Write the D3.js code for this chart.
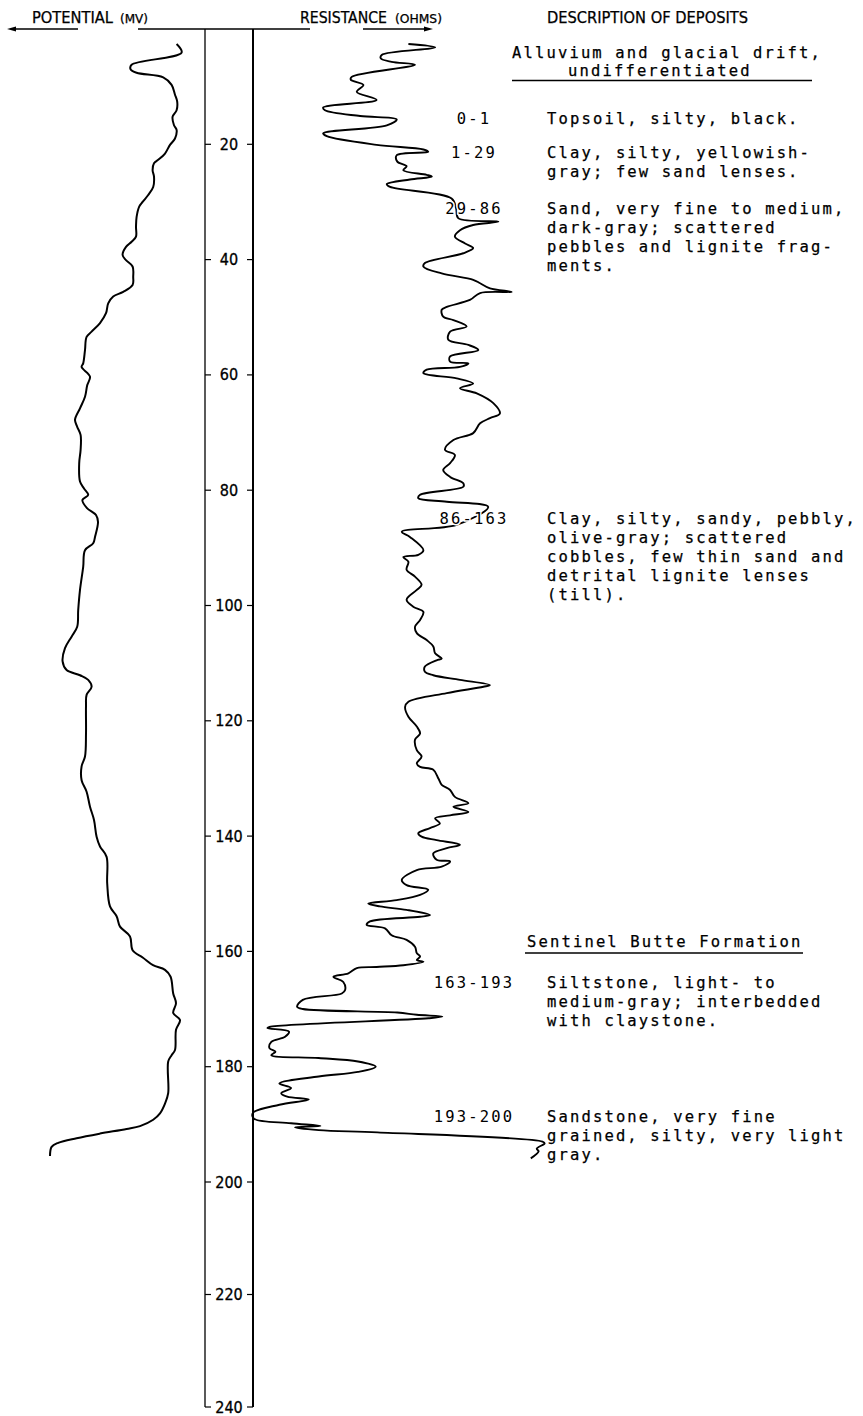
<!DOCTYPE html>
<html>
<head>
<meta charset="utf-8">
<script src="https://cdn.jsdelivr.net/npm/d3@7"></script>
<style>
  body { margin: 0; background: #fff; }
  svg { display: block; }
</style>
</head>
<body>
<svg id="log" width="863" height="1416"></svg>
<script>
// depth ticks (feet)
const depthTicks = d3.range(20, 241, 20);

// spontaneous potential: [depth ft, deflection mV]
const spLog = [
  [2.6,6.7],[4.1,4.2],[6.2,29.2],[7.0,29.7],[7.6,26.7],[8.4,13.4],[9.7,9.2],[11.4,7.5],[12.6,6.4],[14.1,6.7],
  [15.2,8.7],[16.7,8.0],[17.5,6.7],[19.0,7.5],[20.1,10],[21.6,12.5],[22.7,15.9],[23.3,18],[24.5,18.7],[25.6,18],
  [27.4,18.4],[28.8,20.9],[30.0,23.7],[30.8,25.4],[32.6,26.7],[34.3,27],[36.0,27],[36.9,29.2],[37.8,32],[39.2,33.7],
  [40.1,32],[41.2,28.7],[43.0,28.4],[44.4,28.7],[45.6,33.4],[46.4,38.4],[47.6,40.9],[49.3,42],[51.0,45],[52.5,49.2],
  [53.4,51.7],[55.7,52.5],[58.0,53.4],[58.6,54.2],[60.3,50],[61.8,51.4],[63.8,52.5],[65.8,55],[67.8,57.5],[69.0,56.4],
  [70.4,54.7],[73.0,54.7],[75.3,55.4],[78.5,55],[79.7,53],[80.8,50.9],[81.7,53.8],[83.1,51.5],[84.3,47],[85.5,46],
  [88.1,47.5],[89.2,48.4],[90.4,52.5],[93.3,53.4],[97.3,55],[100.8,55.9],[103.7,56.4],[105.4,59.2],[107.4,62.5],[109.7,63.7],
  [111.2,61.7],[112.1,55],[112.9,50.9],[114.1,49.2],[115.5,51.7],[117.5,52],[122.2,52],[126.2,52.5],[127.9,54.2],[130.3,54.2],
  [132.3,51.7],[134.9,50],[137.2,48],[140.1,46.7],[141.8,45],[143.6,41.7],[148.2,41.4],[152.2,40],[153.9,36.7],[155.7,35],
  [157.4,30],[159.8,28.7],[161.1,23.5],[162.4,18.5],[163.2,12.5],[164.4,9.7],[167.3,8.4],[169.0,7],[170.7,8.4],[171.9,5],
  [173.6,7],[177.1,7.5],[178.0,9.2],[179.1,10.9],[184.6,10.9],[186.4,12.5],[188.1,15],[189.2,18.4],[190.3,25],[190.8,31.7],
  [191.6,45],[192.4,56.7],[193.2,65.9],[193.9,69.2],[195.5,70]
];

// resistance: [depth ft, ohms]
const resLog = [
  [2.6,51.8],[3.2,60.7],[4.5,42.9],[5.1,42.6],[5.7,46.2],[6.2,54],[8.3,32.9],[8.8,32.6],[9.7,36.8],[10.9,34.6],
  [12.3,41.2],[13.6,23.4],[14.1,24],[15.1,35.7],[15.7,47.9],[16.7,44.6],[18.1,23.4],[18.6,24.6],[20.1,41.2],[20.9,56.8],
  [21.3,58.4],[21.9,47.9],[23.0,48.1],[23.8,51.2],[24.5,50.1],[25.3,57.9],[25.6,59.6],[26.1,52.3],[26.9,44.6],[27.4,45.7],
  [29.4,66.2],[31.1,67.7],[32.8,68.4],[33.4,81.8],[34.0,73.4],[34.9,69],[36.0,67.3],[37.2,70.7],[38.0,73.4],[38.9,70.1],
  [40.6,57.3],[41.2,56.8],[42.4,62.9],[43.5,73.4],[44.1,75.7],[45.0,79],[45.6,86.2],[45.8,75.7],[47.0,72.3],[48.2,64.6],
  [48.7,62.9],[49.9,63.4],[50.5,66.8],[51.6,71.2],[52.5,65.7],[53.9,65.1],[54.8,71.8],[55.7,75.1],[56.8,65.7],[57.7,65.7],
  [58.0,71.8],[58.6,69],[59.1,57.9],[59.7,56.8],[60.6,67.9],[61.5,73.4],[62.3,69],[63.2,74.6],[64.9,80.1],[66.7,82.3],
  [67.5,79],[68.4,75.7],[70.1,73.4],[71.3,66.8],[73.0,64],[73.9,67.3],[75.3,65.7],[76.5,63.4],[77.7,65.7],[78.8,70.1],
  [79.4,70.1],[80.8,55.7],[81.4,55.1],[82.0,64.6],[82.9,78.4],[86.0,67.9],[87.2,49.6],[88.1,52.3],[90.4,56.8],[91.2,55.1],
  [91.6,50.1],[92.4,51.8],[93.8,51.2],[95.0,54],[96.4,56.2],[97.3,54.6],[99.0,51.2],[100.2,53.4],[101.1,56.8],[102.5,55.7],
  [103.7,54],[104.8,54.6],[106.0,57.9],[107.1,60.1],[108.3,60.7],[109.2,62.9],[109.5,61.2],[110.6,57.3],[111.5,57.3],[112.1,60.1],
  [112.9,69],[113.8,79],[114.1,76.8],[115.2,64.6],[116.7,51.8],[117.6,50.7],[119.3,51.8],[121.0,54.6],[122.2,55.7],[123.3,54],
  [125.1,54.6],[126.2,56.2],[127.4,54.6],[128.0,55.7],[128.5,60.1],[130.0,61.8],[131.1,62.9],[132.0,65.7],[133.2,67.3],[134.3,71.8],
  [134.9,66.8],[135.8,71.8],[136.4,65.7],[136.9,60.7],[137.8,62.3],[138.6,59],[139.5,55.1],[140.1,56.2],[140.7,61.2],[141.5,69],
  [142.1,64.6],[143.0,60.1],[144.1,61.2],[144.4,65.7],[145.3,62.9],[145.9,54.6],[147.6,49.6],[148.5,51.2],[149.3,58.4],[150.2,55.7],
  [151.1,47.9],[151.7,38.4],[152.2,42.3],[152.8,51.2],[153.7,59],[154.0,55.7],[154.8,39],[155.4,37.9],[156.0,44],[157.2,46.2],
  [158.0,51.2],[159.2,54],[160.3,54.6],[160.9,55.7],[161.5,54.6],[161.8,56.8],[162.4,50.1],[162.7,41.2],[162.9,34.6],[163.8,31.8],
  [164.4,26.8],[165.3,30.1],[166.7,30.7],[167.3,29.6],[168.4,16.6],[169.6,14.7],[170.0,16.6],[170.6,48.1],[171.0,54.6],[171.3,63.1],
  [171.6,58.5],[173.1,5.5],[173.3,4.8],[173.9,12],[174.8,10.7],[175.7,6.1],[176.8,5.5],[177.4,7.5],[178.0,6.1],[178.5,21.9],
  [179.1,35],[180.0,40.9],[180.9,35],[181.7,21.9],[182.9,8.8],[183.7,12.7],[184.6,9.4],[185.2,11.4],[185.7,18.6],[186.6,8.8],
  [188.0,0],[189.0,0.3],[189.8,12.7],[190.3,22.5],[190.5,14],[191.0,21.9],[191.4,41.5],[193.0,96.5],[193.3,97.2],[194.2,94.6],
  [194.7,95.2],[195.9,92.6]
];

const unitHeading = ["Alluvium and glacial drift,", "undifferentiated"];
const formationName = "Sentinel Butte Formation";
const depositRanges = ["0-1", "1-29", "29-86", "86-163", "163-193", "193-200"];
const depositText = [
  ["Topsoil, silty, black."],
  ["Clay, silty, yellowish-", "gray; few sand lenses."],
  ["Sand, very fine to medium,", "dark-gray; scattered", "pebbles and lignite frag-", "ments."],
  ["Clay, silty, sandy, pebbly,", "olive-gray; scattered", "cobbles, few thin sand and", "detrital lignite lenses", "(till)."],
  ["Siltstone, light- to", "medium-gray; interbedded", "with claystone."],
  ["Sandstone, very fine", "grained, silty, very light", "gray."]
];

// layout
const descBaseline = [124, 157.5, 214, 524, 988, 1122];
const lineGap = 19;
const axisL = 205, axisR = 253;
const condensed = "'DejaVu Sans Condensed', 'Liberation Sans Narrow', sans-serif";
const narrow = "'Liberation Sans Narrow', 'DejaVu Sans Condensed', sans-serif";
const mono = "'DejaVu Sans Mono', monospace";

const svg = d3.select("#log");

const y = d3.scaleLinear().domain([0, 200, 240]).range([29, 1182, 1407]);
const spX = d3.scaleLinear().domain([0, 70]).range([190, 50]);
const resX = d3.scaleLinear().domain([0, 100]).range([253, 553]);

// depth column
const axis = svg.append("g").attr("stroke", "#000").attr("fill", "none");
axis.append("line").attr("x1", 138).attr("x2", 310).attr("y1", y(0)).attr("y2", y(0)).attr("stroke-width", 1.3);
axis.append("line").attr("x1", axisL).attr("x2", axisL).attr("y1", y(0)).attr("y2", y(240)).attr("stroke-width", 1.3);
axis.append("line").attr("x1", axisR).attr("x2", axisR).attr("y1", y(0)).attr("y2", y(240)).attr("stroke-width", 2);

const ticks = axis.selectAll("g.tick")
  .data(depthTicks)
  .enter()
  .append("g")
  .attr("class", "tick");

ticks.append("line")
  .attr("x1", axisL).attr("x2", axisL + 6)
  .attr("y1", d => y(d)).attr("y2", d => y(d))
  .attr("stroke-width", 1.2);

ticks.append("line")
  .attr("x1", axisR - 6).attr("x2", axisR)
  .attr("y1", d => y(d)).attr("y2", d => y(d))
  .attr("stroke-width", 1.2);

svg.append("g")
  .selectAll("text")
  .data(depthTicks)
  .enter()
  .append("text")
  .attr("x", (axisL + axisR) / 2)
  .attr("y", d => y(d) + 5.5)
  .attr("text-anchor", "middle")
  .attr("fill", "#000")
  .attr("stroke", "#000")
  .attr("stroke-width", 0.3)
  .style("font-family", narrow)
  .style("font-size", "16px")
  .text(d => d);

// column headings
const head = svg.append("g")
  .style("font-family", condensed)
  .attr("fill", "#000")
  .attr("stroke", "#000")
  .attr("stroke-width", 0.25);

const headings = [
  { t: "POTENTIAL", x: 32, w: 81, s: 15.5 },
  { t: "(MV)", x: 120, w: 28, s: 12 },
  { t: "RESISTANCE", x: 300, w: 87, s: 15.5 },
  { t: "(OHMS)", x: 395, w: 47, s: 12 },
  { t: "DESCRIPTION OF DEPOSITS", x: 547, w: 201, s: 15.5 }
];

head.selectAll("text")
  .data(headings)
  .enter()
  .append("text")
  .attr("x", d => d.x)
  .attr("y", 23)
  .attr("textLength", d => d.w)
  .attr("lengthAdjust", "spacingAndGlyphs")
  .style("font-size", d => d.s + "px")
  .text(d => d.t);

// arrows under the curve headings
const arrows = svg.append("g").attr("stroke", "#000").attr("stroke-width", 1.4);
arrows.append("line").attr("x1", 14).attr("x2", 78).attr("y1", 29).attr("y2", 29);
arrows.append("path").attr("d", "M7,29 L16,26.5 L16,31.5 Z").attr("fill", "#000").attr("stroke", "none");
arrows.append("line").attr("x1", 363).attr("x2", 426).attr("y1", 29).attr("y2", 29);
arrows.append("path").attr("d", "M433,29 L424,26.5 L424,31.5 Z").attr("fill", "#000").attr("stroke", "none");

// log curves
const spLine = d3.line()
  .x(d => spX(d[1]))
  .y(d => y(d[0]))
  .curve(d3.curveCatmullRom.alpha(0.5));

const resLine = d3.line()
  .x(d => resX(d[1]))
  .y(d => y(d[0]))
  .curve(d3.curveCatmullRom.alpha(0.5));

svg.append("path")
  .datum(spLog)
  .attr("d", spLine)
  .attr("fill", "none")
  .attr("stroke", "#000")
  .attr("stroke-width", 2)
  .attr("stroke-linejoin", "round");

svg.append("path")
  .datum(resLog)
  .attr("d", resLine)
  .attr("fill", "none")
  .attr("stroke", "#000")
  .attr("stroke-width", 1.9)
  .attr("stroke-linejoin", "round");

// descriptions
const desc = svg.append("g")
  .style("font-family", mono)
  .style("font-size", "15.5px")
  .style("letter-spacing", "2.15px")
  .attr("fill", "#000")
  .attr("stroke", "#000")
  .attr("stroke-width", 0.25);

desc.append("text").attr("x", 512).attr("y", 58).text(unitHeading[0]);
desc.append("text").attr("x", 568).attr("y", 76).text(unitHeading[1]);
svg.append("line").attr("x1", 512).attr("x2", 812).attr("y1", 80.5).attr("y2", 80.5)
  .attr("stroke", "#000").attr("stroke-width", 1.4);

desc.append("text").attr("x", 527).attr("y", 947).text(formationName);
svg.append("line").attr("x1", 525).attr("x2", 803).attr("y1", 953).attr("y2", 953)
  .attr("stroke", "#000").attr("stroke-width", 1.4);

depositRanges.forEach((r, i) => {
  // range labels sit on top of the curve, like the pasted-on original
  desc.append("text")
    .attr("x", 474)
    .attr("y", descBaseline[i])
    .attr("text-anchor", "middle")
    .attr("stroke", "#fff")
    .attr("stroke-width", 3)
    .style("paint-order", "stroke")
    .text(r);

  depositText[i].forEach((line, j) => {
    desc.append("text")
      .attr("x", 547)
      .attr("y", descBaseline[i] + j * lineGap)
      .text(line);
  });
});
</script>
</body>
</html>
